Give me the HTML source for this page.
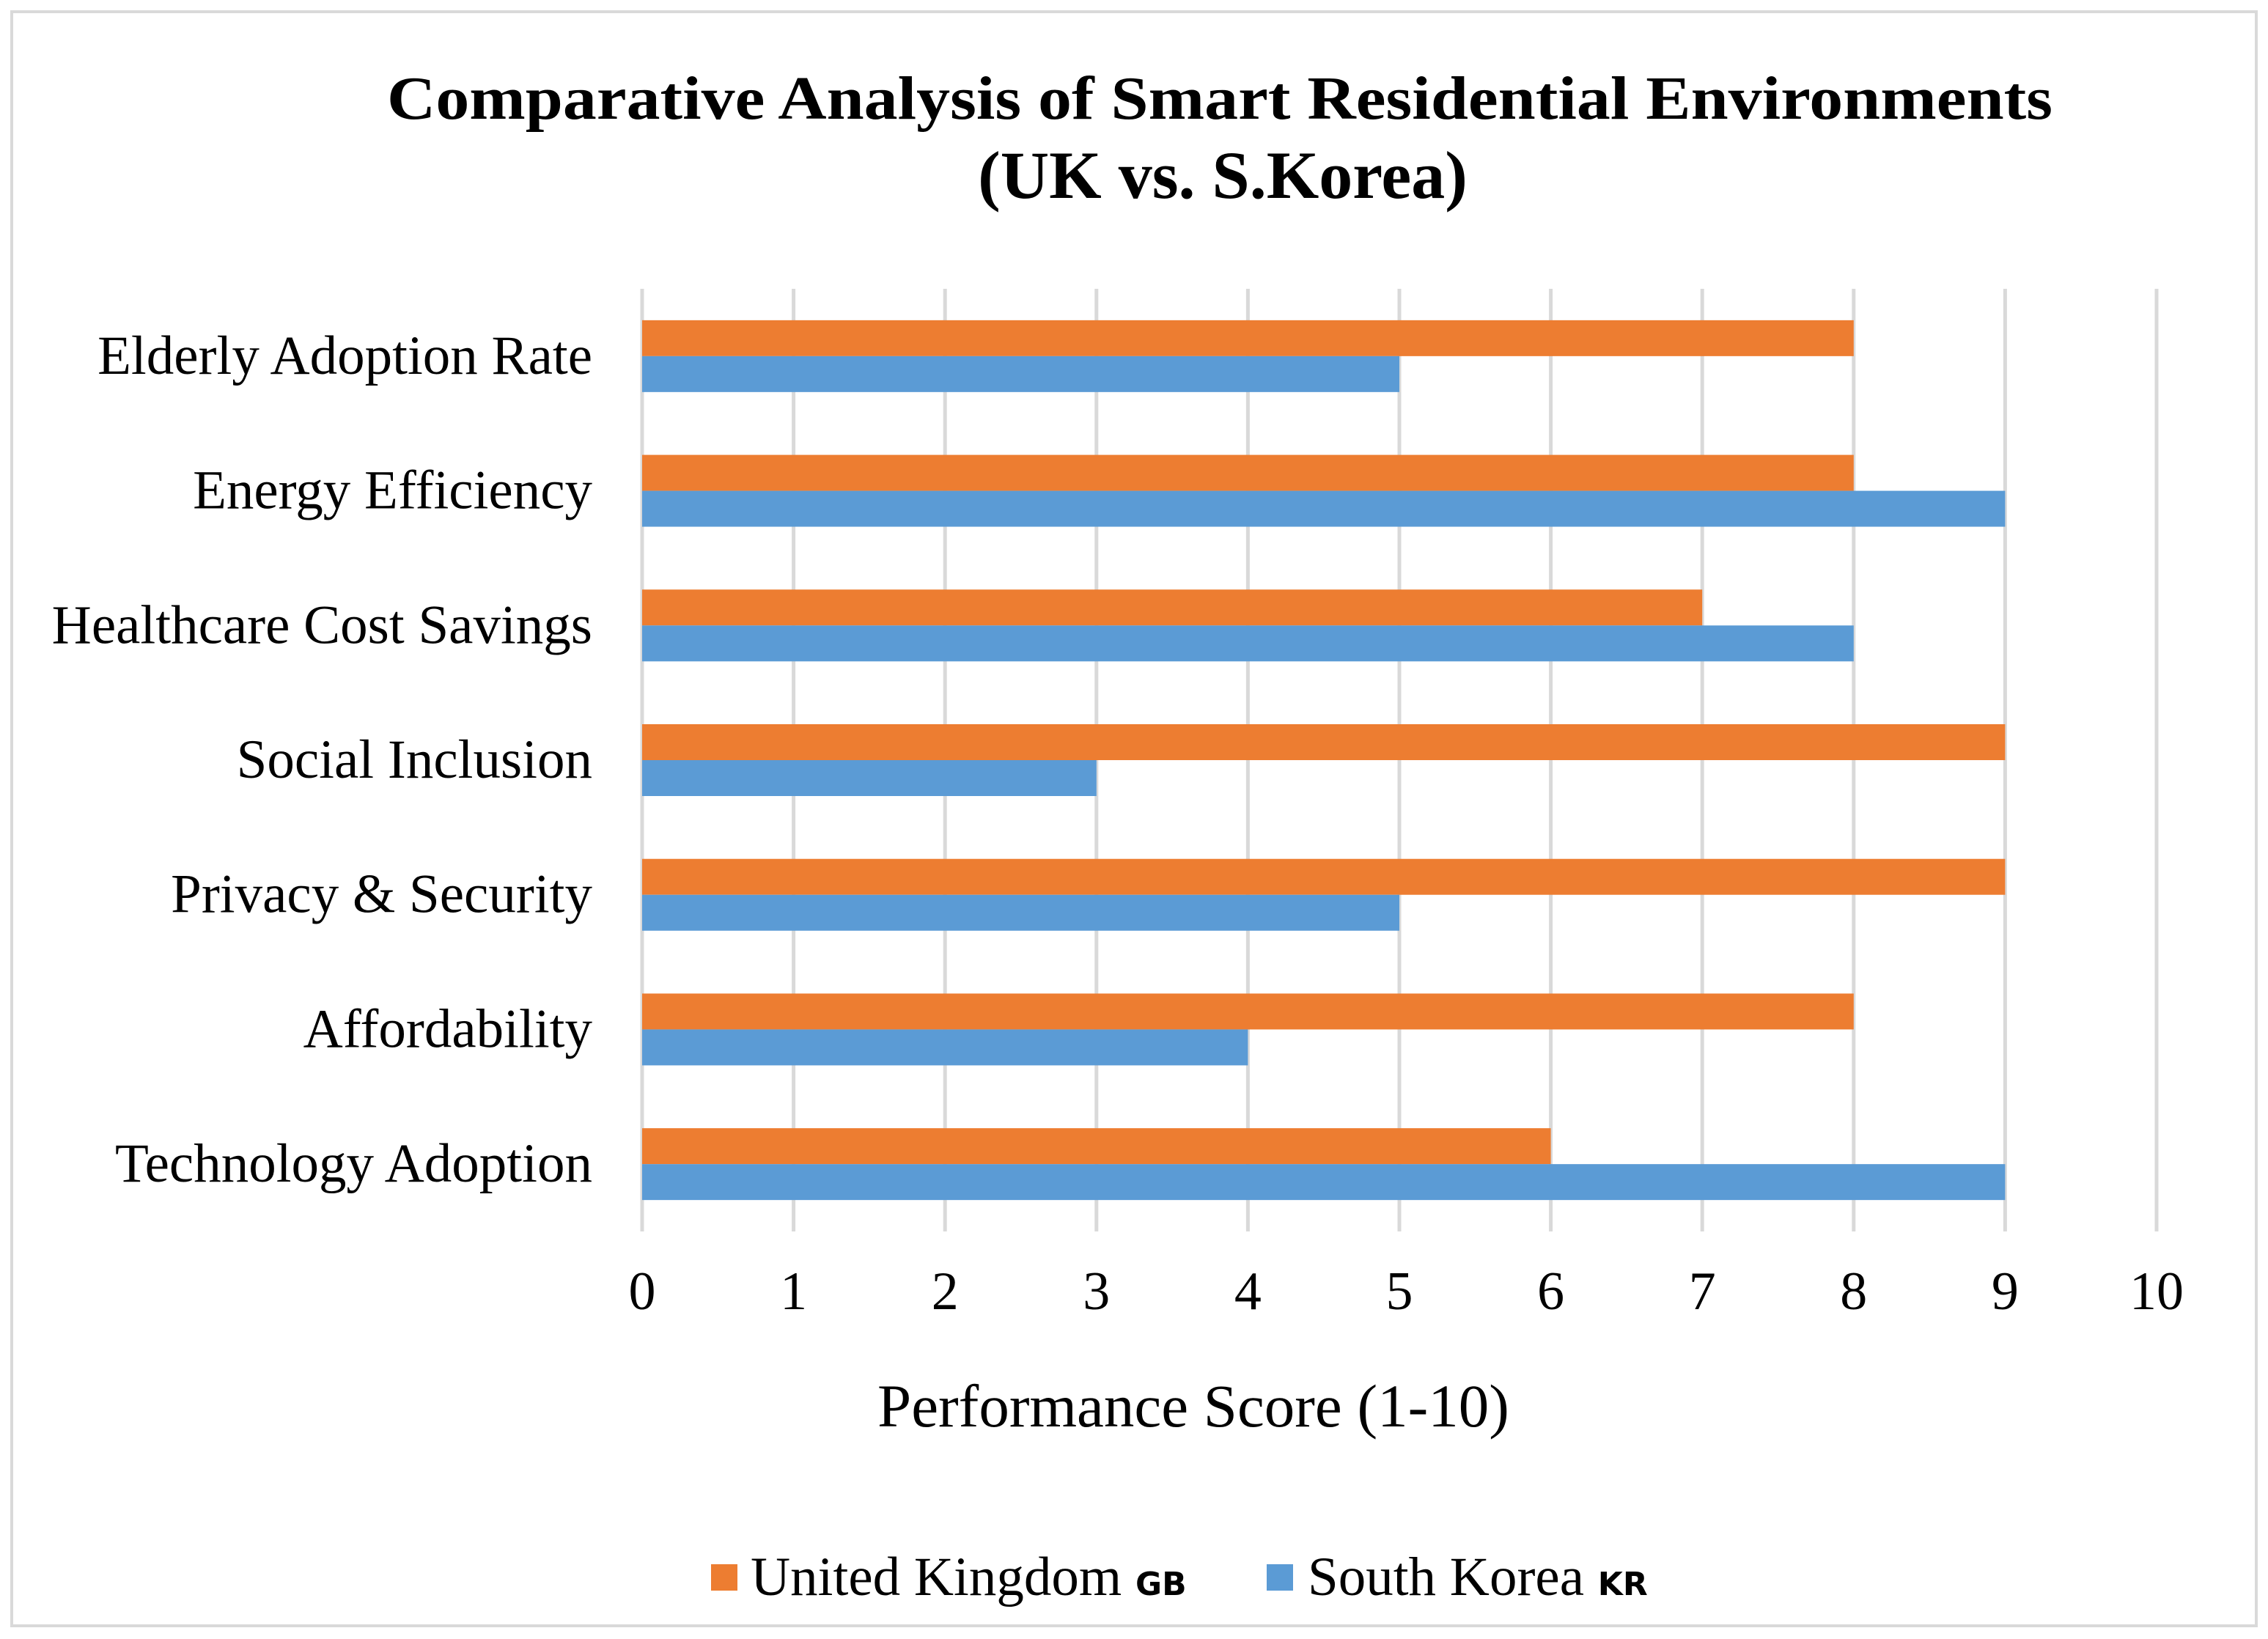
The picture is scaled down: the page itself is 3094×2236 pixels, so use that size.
<!DOCTYPE html>
<html><head><meta charset="utf-8"><style>
html,body{margin:0;padding:0;background:#fff}
svg{display:block}
text{font-family:"Liberation Serif",serif;fill:#000}
</style></head><body>
<svg id="chart" width="3094" height="2236" viewBox="0 0 3094 2236" xmlns="http://www.w3.org/2000/svg">
<rect x="16" y="16" width="3062" height="2202" fill="#fff" stroke="#d9d9d9" stroke-width="4"/>
<text x="1664" y="162" font-size="84" font-weight="bold" text-anchor="middle" textLength="2272" lengthAdjust="spacingAndGlyphs">Comparative Analysis of Smart Residential Environments</text>
<text x="1668" y="270" font-size="92" font-weight="bold" text-anchor="middle">(UK vs. S.Korea)</text>
<g id="grid"></g>
<g id="bars"></g>
<g id="ylabels"></g>
<g id="xlabels"></g>
<text x="1628" y="1946" font-size="83" text-anchor="middle">Performance Score (1-10)</text>
<g>
<rect x="970" y="2134" width="36" height="36" fill="#ED7D31"/>
<text x="1024" y="2176" font-size="75">United Kingdom <tspan font-family="'DejaVu Sans',sans-serif" font-weight="bold" font-size="44">GB</tspan></text>
<rect x="1728" y="2134" width="36" height="36" fill="#5B9BD5"/>
<text x="1784" y="2176" font-size="75">South Korea <tspan font-family="'DejaVu Sans',sans-serif" font-weight="bold" font-size="44">KR</tspan></text>
</g>
</svg>
<script>
const categories = ["Elderly Adoption Rate","Energy Efficiency","Healthcare Cost Savings","Social Inclusion","Privacy & Security","Affordability","Technology Adoption"];
const ukValues = [8,8,7,9,9,8,6];
const krValues = [5,9,8,3,5,4,9];
const xTicks = [0,1,2,3,4,5,6,7,8,9,10];

const NS = "http://www.w3.org/2000/svg";
const X0 = 876, X1 = 2942, Y0 = 394, Y1 = 1680;
const xScale = v => X0 + (v - 0) / (10 - 0) * (X1 - X0);
const band = (Y1 - Y0) / categories.length;
const yCenter = i => Y0 + band * (i + 0.5);
const barH = 49;

function mk(tag, attrs, parent) {
  const el = document.createElementNS(NS, tag);
  for (const k in attrs) el.setAttribute(k, attrs[k]);
  parent.appendChild(el);
  return el;
}
const grid = document.getElementById('grid');
const bars = document.getElementById('bars');
const ylabels = document.getElementById('ylabels');
const xlabels = document.getElementById('xlabels');

xTicks.forEach(t => {
  const l = mk('line', {x1: xScale(t), x2: xScale(t), y1: Y0, y2: Y1, stroke: '#d9d9d9', 'stroke-width': 5}, grid);
  
  
  const tx = mk('text', {x: xScale(t), y: 1786, 'font-size': 74, 'text-anchor': 'middle'}, xlabels);
  tx.textContent = String(t);
  
  
});

categories.forEach((c, i) => {
  const yc = yCenter(i);
  const r1 = mk('rect', {x: xScale(0), y: yc - barH, width: xScale(ukValues[i]) - xScale(0), height: barH, fill: '#ED7D31'}, bars);
  
  
  const r2 = mk('rect', {x: xScale(0), y: yc, width: xScale(krValues[i]) - xScale(0), height: barH, fill: '#5B9BD5'}, bars);
  
  
  const t = mk('text', {x: 808, y: yc + 24, 'font-size': 75, 'text-anchor': 'end'}, ylabels);
  t.textContent = c;
  
  
});
</script>
</body></html>
